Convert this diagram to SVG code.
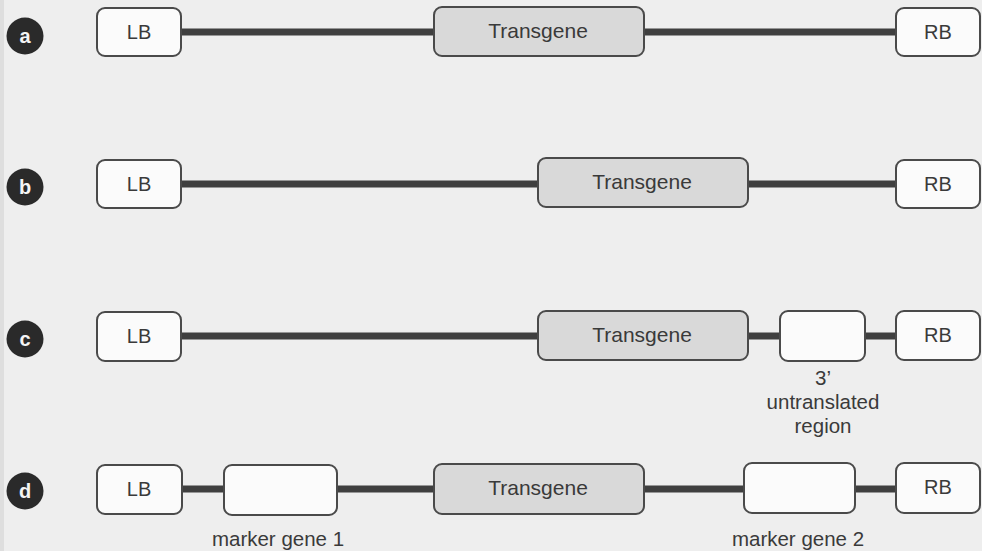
<svg xmlns="http://www.w3.org/2000/svg" width="982" height="551" viewBox="0 0 982 551">
<style>
.box{fill:#fbfbfb;stroke:#4a4a4a;stroke-width:2}
.tg{fill:#d9d9d9;stroke:#4a4a4a;stroke-width:2}
.ln{stroke:#3f3f3f;stroke-width:7;fill:none}
.t{font-family:"Liberation Sans",Arial,sans-serif;fill:#3a3a3a;text-anchor:middle}
.bt{font-size:20px}
.tgt{font-size:21px}
.lab{font-size:20.5px}
.dot{fill:#2a2a2a}
.dt{font-family:"Liberation Sans",Arial,sans-serif;font-weight:bold;font-size:20px;fill:#f4f4f4;text-anchor:middle}
</style>
<rect x="0" y="0" width="982" height="551" fill="#eeeeee"/>
<rect x="0" y="0" width="4" height="551" fill="#dedede"/>

<g id="connectors">
<line class="ln" x1="181" y1="32" x2="434" y2="32"/>
<line class="ln" x1="644" y1="32" x2="896" y2="32"/>
<line class="ln" x1="181" y1="184" x2="538" y2="184"/>
<line class="ln" x1="748" y1="184" x2="896" y2="184"/>
<line class="ln" x1="181" y1="336" x2="538" y2="336"/>
<line class="ln" x1="748" y1="336" x2="780" y2="336"/>
<line class="ln" x1="865" y1="336" x2="896" y2="336"/>
<line class="ln" x1="181" y1="489" x2="224" y2="489"/>
<line class="ln" x1="337" y1="489" x2="434" y2="489"/>
<line class="ln" x1="644" y1="489" x2="744" y2="489"/>
<line class="ln" x1="855" y1="489" x2="896" y2="489"/>
</g>

<g id="label-a"><circle class="dot" cx="25" cy="36" r="18.5"/><text class="dt" x="25" y="43">a</text></g>
<g id="label-b"><circle class="dot" cx="25" cy="187" r="18.5"/><text class="dt" x="25" y="194">b</text></g>
<g id="label-c"><circle class="dot" cx="25" cy="339" r="18.5"/><text class="dt" x="25" y="346">c</text></g>
<g id="label-d"><circle class="dot" cx="25" cy="491" r="18.5"/><text class="dt" x="25" y="498">d</text></g>

<g id="a-LB"><rect class="box" x="97" y="8" width="84" height="48" rx="8"/><text class="t bt" x="139" y="39">LB</text></g>
<g id="a-Transgene"><rect class="tg" x="434" y="7" width="210" height="49" rx="8"/><text class="t tgt" x="538" y="38">Transgene</text></g>
<g id="a-RB"><rect class="box" x="896" y="8" width="84" height="48" rx="8"/><text class="t bt" x="938" y="39">RB</text></g>

<g id="b-LB"><rect class="box" x="97" y="160" width="84" height="48" rx="8"/><text class="t bt" x="139" y="191">LB</text></g>
<g id="b-Transgene"><rect class="tg" x="538" y="158" width="210" height="49" rx="8"/><text class="t tgt" x="642" y="189">Transgene</text></g>
<g id="b-RB"><rect class="box" x="896" y="160" width="84" height="48" rx="8"/><text class="t bt" x="938" y="191">RB</text></g>

<g id="c-LB"><rect class="box" x="97" y="312" width="84" height="49" rx="8"/><text class="t bt" x="139" y="343">LB</text></g>
<g id="c-Transgene"><rect class="tg" x="538" y="311" width="210" height="49" rx="8"/><text class="t tgt" x="642" y="342">Transgene</text></g>
<g id="c-UTR"><rect class="box" x="780" y="311" width="85" height="50" rx="8"/><text class="t lab" x="823" y="385">3’</text><text class="t lab" x="823" y="409">untranslated</text><text class="t lab" x="823" y="433">region</text></g>
<g id="c-RB"><rect class="box" x="896" y="311" width="84" height="49" rx="8"/><text class="t bt" x="938" y="342">RB</text></g>

<g id="d-LB"><rect class="box" x="97" y="465" width="85" height="49" rx="8"/><text class="t bt" x="139" y="496">LB</text></g>
<g id="d-marker1"><rect class="box" x="224" y="465" width="113" height="50" rx="8"/><text class="t lab" x="278" y="546">marker gene 1</text></g>
<g id="d-Transgene"><rect class="tg" x="434" y="464" width="210" height="50" rx="8"/><text class="t tgt" x="538" y="495">Transgene</text></g>
<g id="d-marker2"><rect class="box" x="744" y="463" width="111" height="50" rx="8"/><text class="t lab" x="798" y="546">marker gene 2</text></g>
<g id="d-RB"><rect class="box" x="896" y="463" width="84" height="50" rx="8"/><text class="t bt" x="938" y="494">RB</text></g>
</svg>
